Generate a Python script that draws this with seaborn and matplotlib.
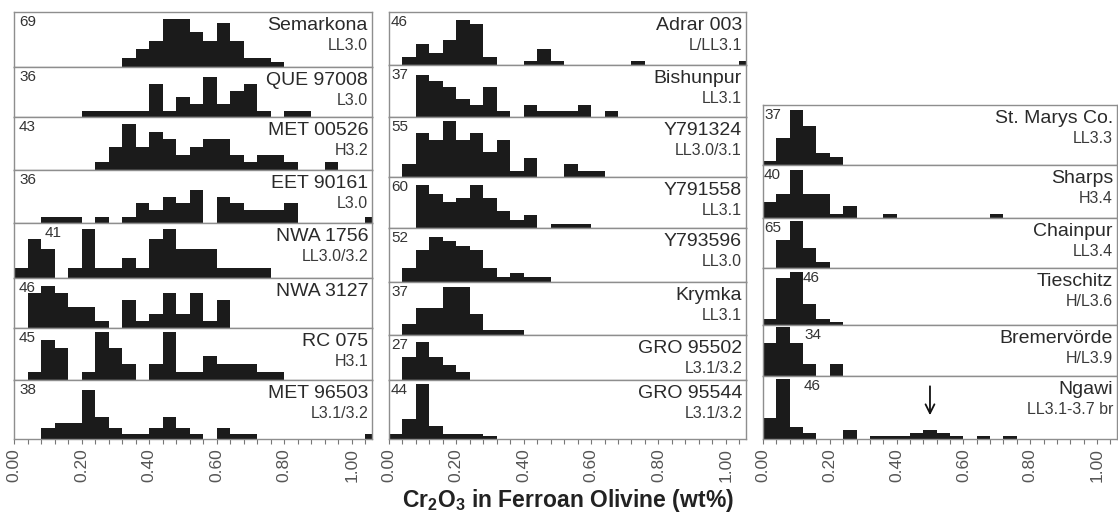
import matplotlib
matplotlib.use("Agg")
import matplotlib.pyplot as plt
import matplotlib.transforms as mtransforms
from matplotlib import font_manager
import seaborn as sns
import numpy as np
import pandas as pd

# ---------------- data (counts per 0.04 wt% bin, starting at 0.00) ----------------
BIN_WIDTH = 0.04
N_BINS = 27

col1_names = ["Semarkona", "QUE 97008", "MET 00526", "EET 90161",
              "NWA 1756", "NWA 3127", "RC 075", "MET 96503"]
col1_types = ["LL3.0", "L3.0", "H3.2", "L3.0", "LL3.0/3.2", "", "H3.1", "L3.1/3.2"]
col1_n = [69, 36, 43, 36, 41, 46, 45, 38]

col2_names = ["Adrar 003", "Bishunpur", "Y791324", "Y791558",
              "Y793596", "Krymka", "GRO 95502", "GRO 95544"]
col2_types = ["L/LL3.1", "LL3.1", "LL3.0/3.1", "LL3.1", "LL3.0", "LL3.1",
              "L3.1/3.2", "L3.1/3.2"]
col2_n = [46, 37, 55, 60, 52, 37, 27, 44]

col3_names = ["St. Marys Co.", "Sharps", "Chainpur", "Tieschitz", "Bremervörde", "Ngawi"]
col3_types = ["LL3.3", "H3.4", "LL3.4", "H/L3.6", "H/L3.9", "LL3.1-3.7 br"]
col3_n = [37, 40, 65, 46, 34, 46]

semarkona = [0, 0, 0, 0, 0, 0, 0, 0, 2, 4, 6, 11, 11, 8, 6, 10, 6, 2, 2, 1]
que97008 = [0, 0, 0, 0, 0, 1, 1, 1, 1, 1, 5, 1, 3, 2, 6, 2, 4, 5, 1, 0, 1, 1]
met00526 = [0, 0, 0, 0, 0, 0, 1, 3, 6, 3, 5, 4, 2, 3, 4, 4, 2, 1, 2, 2, 1, 0, 0, 1]
eet90161 = [0, 0, 1, 1, 1, 0, 1, 0, 1, 3, 2, 4, 3, 5, 0, 4, 3, 2, 2, 2, 3,
            0, 0, 0, 0, 0, 1]
nwa1756 = [1, 4, 3, 0, 1, 5, 1, 1, 2, 1, 4, 5, 3, 3, 3, 1, 1, 1, 1]
nwa3127 = [0, 5, 6, 5, 3, 3, 1, 0, 4, 1, 2, 5, 2, 5, 1, 4]
rc075 = [0, 1, 5, 4, 0, 1, 6, 4, 2, 0, 2, 6, 1, 1, 3, 2, 2, 2, 1, 1]
met96503 = [0, 0, 2, 3, 3, 9, 4, 2, 1, 1, 2, 4, 2, 1, 0, 2, 1, 1,
            0, 0, 0, 0, 0, 0, 0, 0, 1]

adrar003 = [0, 2, 5, 3, 6, 11, 10, 2, 0, 0, 1, 4, 1, 0, 0, 0, 0, 0, 1,
            0, 0, 0, 0, 0, 0, 0, 1]
bishunpur = [0, 0, 7, 6, 5, 3, 2, 5, 1, 0, 2, 1, 1, 1, 2, 0, 1]
y791324 = [0, 2, 7, 6, 9, 6, 7, 4, 6, 1, 3, 0, 0, 2, 1, 1]
y791558 = [0, 0, 10, 8, 6, 7, 10, 7, 4, 2, 3, 0, 1, 1, 1]
y793596 = [0, 3, 7, 10, 9, 8, 7, 3, 1, 2, 1, 1]
krymka = [0, 2, 5, 5, 9, 9, 4, 1, 1, 1]
gro95502 = [0, 6, 10, 6, 4, 2]
gro95544 = [2, 8, 22, 5, 2, 2, 2, 1]

stmarys = [1, 7, 14, 10, 3, 2]
sharps = [4, 6, 12, 6, 6, 1, 3, 0, 0, 1, 0, 0, 0, 0, 0, 0, 0, 1]
chainpur = [0, 18, 30, 13, 4]
tieschitz = [2, 16, 18, 7, 2, 1]
bremervorde = [8, 12, 8, 3, 0, 3]
ngawi = [7, 20, 4, 2, 0, 0, 3, 0, 1, 1, 1, 2, 3, 2, 1, 0, 1, 0, 1]

col1_counts = [semarkona, que97008, met00526, eet90161, nwa1756, nwa3127, rc075, met96503]
col2_counts = [adrar003, bishunpur, y791324, y791558, y793596, krymka, gro95502, gro95544]
col3_counts = [stmarys, sharps, chainpur, tieschitz, bremervorde, ngawi]

tick_values = [0.0, 0.2, 0.4, 0.6, 0.8, 1.0]
tick_labels = ["0.00", "0.20", "0.40", "0.60", "0.80", "1.00"]

ngawi_arrow_x = 0.50   # marked value in the Ngawi panel

# ---------------- layout (pixels of the 1118x526 canvas) ----------------
W, H = 1118, 526
XMAX = 1.06
col_x = [(14, 372), (389, 746), (763, 1117)]
col_y = [
    [12.3, 66.7, 117.3, 170, 223.3, 277.7, 328.3, 380, 439],
    [12.3, 65, 116.7, 176.7, 228.3, 281.7, 335, 380, 439],
    [105, 165, 218.3, 268.3, 325, 376, 439],
]
col_ytop = [
    [12.5, 7.6, 6.9, 8.0, 5.6, 7.2, 6.5, 10.9],
    [12.8, 8.6, 9.7, 11.9, 11.9, 10.0, 11.9, 23.6],
    [15.3, 13.3, 32.0, 19.3, 12.4, 21.0],
]
# pixel offset of the "n" label from the panel's left edge
col_nx = [
    [5, 5, 5, 5, 31, 5, 5, 5],
    [2, 2, 2, 2, 2, 2, 2, 2],
    [1, 1, 1, 40, 41, 41],
]

sns.set_theme(style="white")
plt.rcParams["font.family"] = ["Liberation Sans", "DejaVu Sans"]
plt.rcParams["mathtext.default"] = "regular"

installed = {f.name for f in font_manager.fontManager.ttflist}
if "Liberation Sans Narrow" in installed:
    title_family, title_size = ["Liberation Sans Narrow", "DejaVu Sans"], 20
else:
    title_family, title_size = ["Liberation Sans", "DejaVu Sans"], 16.5

fig = plt.figure(figsize=(W / 100, H / 100), dpi=100)
fig.patch.set_facecolor("white")

edges = np.arange(N_BINS + 1) * BIN_WIDTH
centers = edges[:-1] + BIN_WIDTH / 2

BAR = "#1b1b1b"
FRAME = "#8e8e8e"

columns = [
    (col1_names, col1_types, col1_n, col1_counts),
    (col2_names, col2_types, col2_n, col2_counts),
    (col3_names, col3_types, col3_n, col3_counts),
]


def offset(ax, dx_px, dy_px):
    return ax.transAxes + mtransforms.ScaledTranslation(dx_px / 100, dy_px / 100,
                                                        fig.dpi_scale_trans)


for ci, (names, types, ns, counts) in enumerate(columns):
    x0, x1 = col_x[ci]
    ys = col_y[ci]
    for pi, name in enumerate(names):
        ytop_px, ybot_px = ys[pi], ys[pi + 1]
        rect = [x0 / W, 1 - ybot_px / H, (x1 - x0) / W, (ybot_px - ytop_px) / H]
        ax = fig.add_axes(rect)
        c = np.array(counts[pi], dtype=int)
        values = np.repeat(centers[:len(c)], c)
        df = pd.DataFrame({"cr2o3": values})
        sns.histplot(data=df, x="cr2o3", binwidth=BIN_WIDTH,
                     binrange=(0, N_BINS * BIN_WIDTH),
                     element="step", fill=True, color=BAR, alpha=1,
                     linewidth=0, ax=ax)
        ax.set_xlim(0, XMAX)
        ax.set_ylim(0, col_ytop[ci][pi])
        ax.set_xlabel("")
        ax.set_ylabel("")
        ax.set_yticks([])
        for s in ax.spines.values():
            s.set_color(FRAME)
            s.set_linewidth(1.0)
        is_bottom = pi == len(names) - 1
        if is_bottom:
            ax.set_xticks(tick_values)
            ax.set_xticklabels(tick_labels, rotation=90, fontsize=12.5,
                               color="#555555")
            ax.set_xticks(np.arange(0, XMAX, BIN_WIDTH), minor=True)
            ax.tick_params(axis="x", which="both", direction="out", length=3.6,
                           width=0.8, color="#777777", bottom=True, pad=3)
        else:
            ax.set_xticks([])
        ax.text(1, 1, name, transform=offset(ax, -4, -5),
                ha="right", va="top", fontsize=14, color="#2a2a2a")
        if types[pi]:
            ax.text(1, 1, types[pi], transform=offset(ax, -4, -26),
                    ha="right", va="top", fontsize=11.5, color="#3a3a3a")
        ax.text(0, 1, str(ns[pi]), transform=offset(ax, col_nx[ci][pi], -3),
                ha="left", va="top", fontsize=11, color="#333333")
        if name == "Ngawi":
            ax.annotate("", xy=(ngawi_arrow_x, 7), xytext=(ngawi_arrow_x, 18.5),
                        arrowprops=dict(arrowstyle="->", color="#111111",
                                        lw=1.3, mutation_scale=16))

fig.text(568 / W, 1 - 500 / H, r"Cr$_2$O$_3$ in Ferroan Olivine (wt%)",
         ha="center", va="center", fontsize=title_size, fontweight="bold",
         family=title_family, color="#222222")

fig.savefig("out.png", dpi=100, facecolor="white")
